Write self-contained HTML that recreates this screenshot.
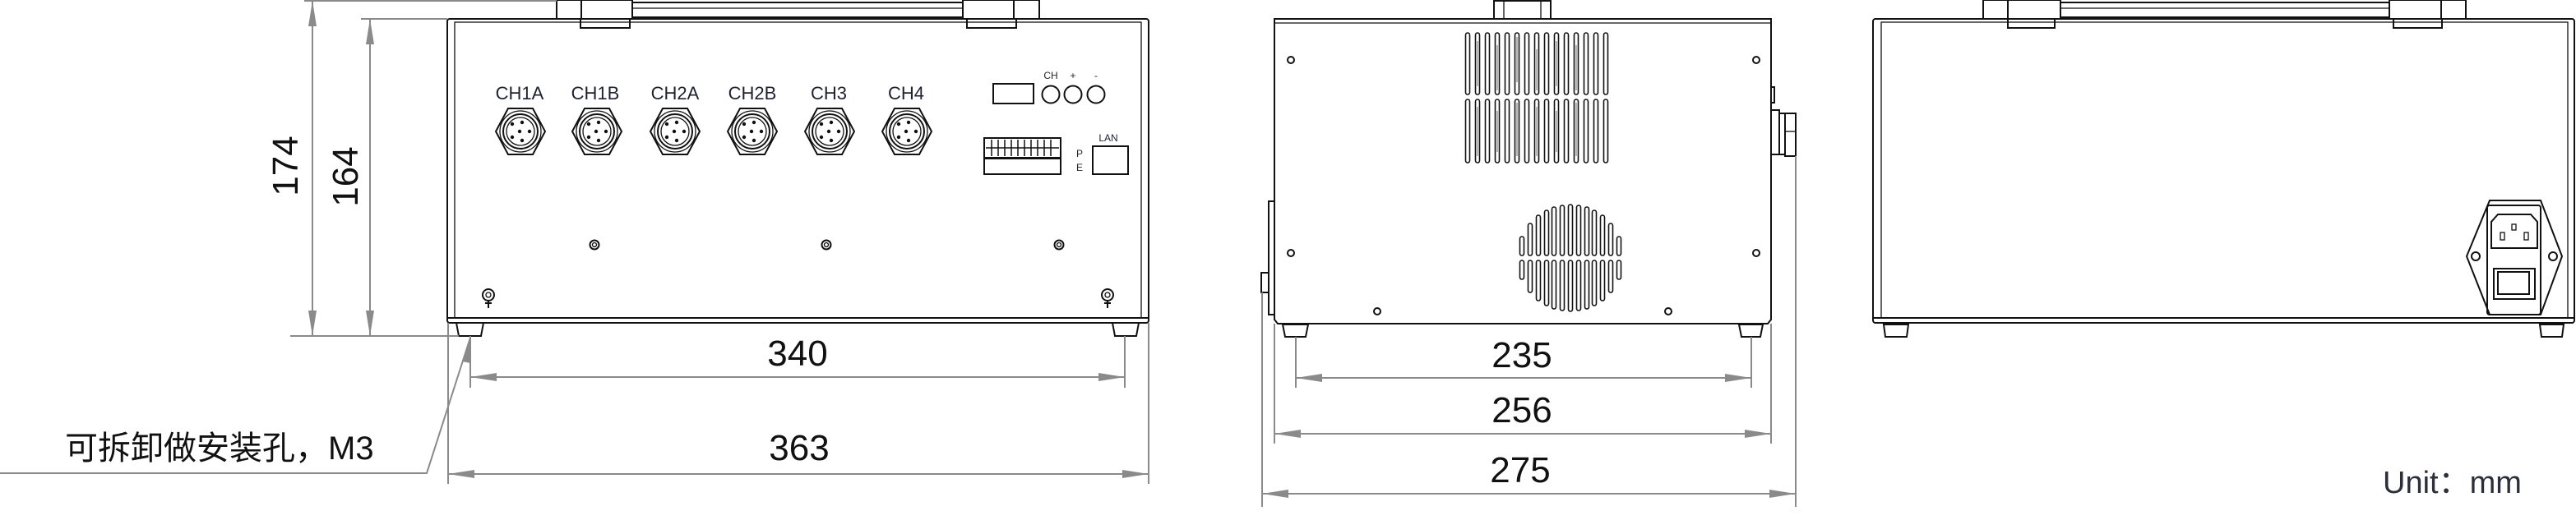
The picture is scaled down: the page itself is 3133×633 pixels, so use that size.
<!DOCTYPE html>
<html><head><meta charset="utf-8"><style>
html,body{margin:0;padding:0;background:#fff;}
svg{display:block;}
.o{fill:none;stroke:#111;stroke-width:2;}
.t{fill:none;stroke:#111;stroke-width:1.3;}
.d{fill:none;stroke:#8a8a8a;stroke-width:2;}
.a{fill:#8a8a8a;stroke:none;}
.dim{font-family:"Liberation Sans",sans-serif;font-size:44px;fill:#111;text-anchor:middle;}
.lb{font-family:"Liberation Sans",sans-serif;font-size:22px;fill:#1e2230;text-anchor:middle;}
.sm{font-family:"Liberation Sans",sans-serif;font-size:12px;fill:#1e2230;text-anchor:middle;}
.v{fill:none;stroke:#111;stroke-width:1.6;}
</style></head><body>
<svg width="3133" height="633" viewBox="0 0 3133 633" xmlns="http://www.w3.org/2000/svg">
<defs>
<g id="conn">
<polygon class="o" points="-30,0 -15,-28 15,-28 30,0 15,28 -15,28"/>
<circle class="t" cx="0" cy="0" r="25"/>
<circle class="o" cx="0" cy="0" r="21"/>
<circle class="t" cx="0" cy="0" r="17"/>
<circle cx="-10" cy="-9" r="2.2" fill="#111"/><circle cx="2" cy="-11" r="2.2" fill="#111"/>
<circle cx="-1" cy="0" r="2.2" fill="#111"/><circle cx="11" cy="0" r="2.2" fill="#111"/>
<circle cx="-10" cy="7" r="2.2" fill="#111"/><circle cx="2" cy="11" r="2.2" fill="#111"/>
</g>
<g id="scr"><circle class="o" cx="0" cy="0" r="5.5"/><circle class="t" cx="0" cy="0" r="2.5"/></g>
<g id="gnd"><circle class="o" cx="0" cy="0" r="7"/><circle class="t" cx="0" cy="0" r="3"/><line class="o" x1="0" y1="7" x2="0" y2="16"/><line class="o" x1="-4" y1="10" x2="4" y2="10"/></g>
<g id="sv"><circle class="o" cx="0" cy="0" r="4"/></g>
</defs>

<!-- ================= FRONT VIEW ================= -->
<!-- handle -->
<rect class="o" x="677" y="0" width="92" height="23"/>
<line class="o" x1="707" y1="0" x2="707" y2="23"/>
<rect class="o" x="1171" y="0" width="93" height="23"/>
<line class="o" x1="1233" y1="0" x2="1233" y2="23"/>
<line class="o" x1="769" y1="3" x2="1171" y2="3"/>
<line class="t" x1="769" y1="10" x2="1171" y2="10"/>
<line class="o" x1="769" y1="21" x2="1171" y2="21"/>
<!-- box -->
<rect class="o" x="544" y="23" width="853" height="370" rx="3"/>
<rect class="t" x="553" y="27" width="835" height="360"/>
<line class="o" x1="544" y1="387" x2="1397" y2="387"/>
<rect class="o" x="706" y="23" width="60" height="11"/>
<rect class="o" x="1176" y="23" width="60" height="11"/>
<!-- feet -->
<polygon class="o" points="555,393 588,393 585,409 558,409"/>
<polygon class="o" points="1353,393 1385,393 1382,409 1356,409"/>
<!-- labels -->
<text class="lb" x="632" y="121">CH1A</text>
<text class="lb" x="724" y="121">CH1B</text>
<text class="lb" x="821" y="121">CH2A</text>
<text class="lb" x="915" y="121">CH2B</text>
<text class="lb" x="1008" y="121">CH3</text>
<text class="lb" x="1102" y="121">CH4</text>
<use href="#conn" x="633" y="160"/>
<use href="#conn" x="726" y="160"/>
<use href="#conn" x="821" y="160"/>
<use href="#conn" x="915" y="160"/>
<use href="#conn" x="1009" y="160"/>
<use href="#conn" x="1103" y="160"/>
<use href="#scr" x="723" y="298"/>
<use href="#scr" x="1005" y="298"/>
<use href="#scr" x="1288" y="298"/>
<use href="#gnd" x="594" y="359"/>
<use href="#gnd" x="1347" y="359"/>
<!-- right panel -->
<text class="sm" x="1278" y="96">CH</text>
<text class="sm" x="1305" y="96">+</text>
<text class="sm" x="1333" y="96">-</text>
<rect class="o" x="1208" y="102" width="49" height="24"/>
<circle class="o" cx="1278" cy="115" r="10.5"/>
<circle class="o" cx="1305" cy="115" r="10.5"/>
<circle class="o" cx="1333" cy="115" r="10.5"/>
<rect class="o" x="1197" y="168" width="93" height="24"/>
<g stroke="#111" stroke-width="1.5">
<line x1="1206" y1="170" x2="1206" y2="190"/><line x1="1214" y1="170" x2="1214" y2="190"/><line x1="1222" y1="170" x2="1222" y2="190"/><line x1="1230" y1="170" x2="1230" y2="190"/><line x1="1238" y1="170" x2="1238" y2="190"/><line x1="1246" y1="170" x2="1246" y2="190"/><line x1="1254" y1="170" x2="1254" y2="190"/><line x1="1262" y1="170" x2="1262" y2="190"/><line x1="1270" y1="170" x2="1270" y2="190"/><line x1="1278" y1="170" x2="1278" y2="190"/>
<line x1="1199" y1="180" x2="1288" y2="180"/>
</g>
<rect class="o" x="1197" y="193" width="93" height="19"/>
<text class="sm" x="1313" y="191">P</text>
<text class="sm" x="1313" y="208">E</text>
<text class="sm" x="1348" y="172">LAN</text>
<rect class="o" x="1329" y="178" width="43" height="34"/>

<!-- front dims -->
<line class="d" x1="370" y1="1" x2="677" y2="1"/>
<line class="d" x1="439" y1="23" x2="544" y2="23"/>
<line class="d" x1="353" y1="409" x2="558" y2="409"/>
<line class="d" x1="380" y1="1" x2="380" y2="409"/>
<polygon class="a" points="380,1 375,32 385,32"/><polygon class="a" points="380,409 375,378 385,378"/>
<line class="d" x1="450" y1="23" x2="450" y2="409"/>
<polygon class="a" points="450,23 445,54 455,54"/><polygon class="a" points="450,409 445,378 455,378"/>
<text class="dim" transform="translate(362,202) rotate(-90)">174</text>
<text class="dim" transform="translate(435,215) rotate(-90)">164</text>
<!-- 340 -->
<line class="d" x1="572" y1="409" x2="572" y2="472"/>
<line class="d" x1="1368" y1="409" x2="1368" y2="472"/>
<line class="d" x1="572" y1="459" x2="1368" y2="459"/>
<polygon class="a" points="572,459 604,454 604,464"/><polygon class="a" points="1368,459 1336,454 1336,464"/>
<text class="dim" x="970" y="445">340</text>
<!-- 363 -->
<line class="d" x1="545" y1="393" x2="545" y2="589"/>
<line class="d" x1="1397" y1="393" x2="1397" y2="589"/>
<line class="d" x1="545" y1="577" x2="1397" y2="577"/>
<polygon class="a" points="545,577 577,572 577,582"/><polygon class="a" points="1397,577 1365,572 1365,582"/>
<text class="dim" x="972" y="560">363</text>
<!-- leader -->
<polyline class="d" points="0,576 519,576 572,411"/>
<polygon class="a" points="572,411 562,440 572,442"/>
<text x="79" y="559" style="font-family:'Liberation Sans','Noto Sans CJK SC',sans-serif;font-size:40px;fill:#111;">可拆卸做安装孔，M3</text>

<!-- ================= SIDE VIEW ================= -->
<rect class="o" x="1817" y="1" width="69" height="22"/>
<line class="t" x1="1829" y1="1" x2="1829" y2="23"/><line class="t" x1="1874" y1="1" x2="1874" y2="23"/>
<path class="o" d="M1550,23 H2154 V389 L2150,394 H1554 L1550,389 Z"/>
<line class="t" x1="1550" y1="28" x2="2154" y2="28"/>
<!-- side protrusions -->
<rect class="o" x="1543" y="245" width="7" height="138"/>
<rect class="o" x="1534" y="332" width="9" height="24"/>
<rect class="o" x="2154" y="106" width="4" height="19"/>
<rect class="o" x="2154" y="134" width="10" height="54"/>
<rect class="o" x="2164" y="138" width="7" height="50"/>
<rect class="o" x="2171" y="138" width="13" height="52"/>
<line class="t" x1="2171" y1="160" x2="2184" y2="160"/>
<!-- feet -->
<polygon class="o" points="1560,395 1591,395 1588,410 1563,410"/>
<polygon class="o" points="2115,395 2144,395 2141,410 2118,410"/>
<!-- screws -->
<use href="#sv" x="1570" y="73"/><use href="#sv" x="2136" y="73"/>
<use href="#sv" x="1570" y="308"/><use href="#sv" x="2136" y="308"/>
<use href="#sv" x="1675" y="379"/><use href="#sv" x="2029" y="379"/>
<!-- vents -->
<g class="v">
<rect x="1782.5" y="40" width="5" height="75" rx="2.5"/><rect x="1794.5" y="40" width="5" height="75" rx="2.5"/><rect x="1806.5" y="40" width="5" height="75" rx="2.5"/><rect x="1818.5" y="40" width="5" height="75" rx="2.5"/><rect x="1830.5" y="40" width="5" height="75" rx="2.5"/><rect x="1842.5" y="40" width="5" height="75" rx="2.5"/><rect x="1854.5" y="40" width="5" height="75" rx="2.5"/><rect x="1866.5" y="40" width="5" height="75" rx="2.5"/><rect x="1878.5" y="40" width="5" height="75" rx="2.5"/><rect x="1890.5" y="40" width="5" height="75" rx="2.5"/><rect x="1902.5" y="40" width="5" height="75" rx="2.5"/><rect x="1914.5" y="40" width="5" height="75" rx="2.5"/><rect x="1926.5" y="40" width="5" height="75" rx="2.5"/><rect x="1938.5" y="40" width="5" height="75" rx="2.5"/><rect x="1950.5" y="40" width="5" height="75" rx="2.5"/>
<rect x="1782.5" y="121" width="5" height="77" rx="2.5"/><rect x="1794.5" y="121" width="5" height="77" rx="2.5"/><rect x="1806.5" y="121" width="5" height="77" rx="2.5"/><rect x="1818.5" y="121" width="5" height="77" rx="2.5"/><rect x="1830.5" y="121" width="5" height="77" rx="2.5"/><rect x="1842.5" y="121" width="5" height="77" rx="2.5"/><rect x="1854.5" y="121" width="5" height="77" rx="2.5"/><rect x="1866.5" y="121" width="5" height="77" rx="2.5"/><rect x="1878.5" y="121" width="5" height="77" rx="2.5"/><rect x="1890.5" y="121" width="5" height="77" rx="2.5"/><rect x="1902.5" y="121" width="5" height="77" rx="2.5"/><rect x="1914.5" y="121" width="5" height="77" rx="2.5"/><rect x="1926.5" y="121" width="5" height="77" rx="2.5"/><rect x="1938.5" y="121" width="5" height="77" rx="2.5"/><rect x="1950.5" y="121" width="5" height="77" rx="2.5"/>
</g>
<g stroke="#111" stroke-width="1" opacity="0.6">
<line x1="1797" y1="50" x2="1797" y2="105"/><line x1="1821" y1="55" x2="1821" y2="110"/><line x1="1845" y1="45" x2="1845" y2="100"/><line x1="1869" y1="60" x2="1869" y2="110"/><line x1="1893" y1="50" x2="1893" y2="105"/><line x1="1917" y1="55" x2="1917" y2="110"/>
<line x1="1797" y1="130" x2="1797" y2="190"/><line x1="1821" y1="135" x2="1821" y2="185"/><line x1="1845" y1="125" x2="1845" y2="190"/><line x1="1869" y1="130" x2="1869" y2="190"/><line x1="1893" y1="135" x2="1893" y2="185"/><line x1="1917" y1="125" x2="1917" y2="190"/>
</g>
<!-- fan grille -->
<g class="v">
<rect x="1848.5" y="288" width="5" height="23" rx="2.5"/><rect x="1848.5" y="317" width="5" height="23" rx="2.5"/>
<rect x="1858.5" y="272" width="5" height="39" rx="2.5"/><rect x="1858.5" y="317" width="5" height="39" rx="2.5"/>
<rect x="1868.5" y="262" width="5" height="49" rx="2.5"/><rect x="1868.5" y="317" width="5" height="49" rx="2.5"/>
<rect x="1878.5" y="256" width="5" height="55" rx="2.5"/><rect x="1878.5" y="317" width="5" height="55" rx="2.5"/>
<rect x="1887.5" y="252" width="5" height="59" rx="2.5"/><rect x="1887.5" y="317" width="5" height="59" rx="2.5"/>
<rect x="1897.5" y="250" width="5" height="61" rx="2.5"/><rect x="1897.5" y="317" width="5" height="61" rx="2.5"/>
<rect x="1907.5" y="249" width="5" height="62" rx="2.5"/><rect x="1907.5" y="317" width="5" height="62" rx="2.5"/>
<rect x="1917.5" y="250" width="5" height="61" rx="2.5"/><rect x="1917.5" y="317" width="5" height="61" rx="2.5"/>
<rect x="1927.5" y="252" width="5" height="59" rx="2.5"/><rect x="1927.5" y="317" width="5" height="59" rx="2.5"/>
<rect x="1936.5" y="256" width="5" height="55" rx="2.5"/><rect x="1936.5" y="317" width="5" height="55" rx="2.5"/>
<rect x="1946.5" y="262" width="5" height="49" rx="2.5"/><rect x="1946.5" y="317" width="5" height="49" rx="2.5"/>
<rect x="1956.5" y="272" width="5" height="39" rx="2.5"/><rect x="1956.5" y="317" width="5" height="39" rx="2.5"/>
<rect x="1966.5" y="288" width="5" height="23" rx="2.5"/><rect x="1966.5" y="317" width="5" height="23" rx="2.5"/>
</g>
<!-- side dims -->
<line class="d" x1="1576" y1="410" x2="1576" y2="472"/>
<line class="d" x1="2130" y1="410" x2="2130" y2="472"/>
<line class="d" x1="1576" y1="460" x2="2130" y2="460"/>
<polygon class="a" points="1576,460 1608,455 1608,465"/><polygon class="a" points="2130,460 2098,455 2098,465"/>
<text class="dim" x="1851" y="447">235</text>
<line class="d" x1="1550" y1="394" x2="1550" y2="540"/>
<line class="d" x1="2154" y1="394" x2="2154" y2="540"/>
<line class="d" x1="1550" y1="528" x2="2154" y2="528"/>
<polygon class="a" points="1550,528 1582,523 1582,533"/><polygon class="a" points="2154,528 2122,523 2122,533"/>
<text class="dim" x="1851" y="514">256</text>
<line class="d" x1="1535" y1="356" x2="1535" y2="617"/>
<line class="d" x1="2184" y1="190" x2="2184" y2="617"/>
<line class="d" x1="1535" y1="601" x2="2184" y2="601"/>
<polygon class="a" points="1535,601 1567,596 1567,606"/><polygon class="a" points="2184,601 2152,596 2152,606"/>
<text class="dim" x="1849" y="587">275</text>

<!-- ================= BACK VIEW ================= -->
<rect class="o" x="2412" y="0" width="94" height="23"/>
<line class="o" x1="2442" y1="0" x2="2442" y2="23"/>
<rect class="o" x="2906" y="0" width="93" height="23"/>
<line class="o" x1="2969" y1="0" x2="2969" y2="23"/>
<line class="o" x1="2506" y1="3" x2="2906" y2="3"/>
<line class="t" x1="2506" y1="10" x2="2906" y2="10"/>
<line class="o" x1="2506" y1="21" x2="2906" y2="21"/>
<rect class="o" x="2278" y="23" width="853" height="370" rx="3"/>
<rect class="t" x="2288" y="27" width="835" height="360"/>
<line class="o" x1="2278" y1="387" x2="3131" y2="387"/>
<rect class="o" x="2442" y="23" width="57" height="11"/>
<rect class="o" x="2911" y="23" width="59" height="11"/>
<polygon class="o" points="2291,395 2321,395 2319,410 2293,410"/>
<polygon class="o" points="3089,395 3118,395 3116,410 3091,410"/>
<!-- power module -->
<polygon class="o" points="3028,244 3090,244 3116,312 3090,383 3028,383 3000,312"/>
<rect class="o" x="3025" y="250" width="65" height="133" rx="3"/>
<path class="o" d="M3038,261 H3078 L3086,270 V302 H3030 V270 Z"/>
<rect class="t" x="3055" y="273" width="5" height="7"/>
<rect class="t" x="3041" y="283" width="5" height="9"/>
<rect class="t" x="3070" y="283" width="5" height="9"/>
<circle class="o" cx="3011" cy="312" r="5"/><circle class="o" cx="3105" cy="312" r="5"/>
<rect class="o" x="3033" y="327" width="50" height="37"/>
<rect class="o" x="3038" y="331" width="38" height="27"/>
<text x="2898" y="600" style="font-family:'Liberation Sans','Noto Sans CJK SC',sans-serif;font-size:38px;fill:#2a2f3a;">Unit：mm</text>
</svg>
</body></html>
